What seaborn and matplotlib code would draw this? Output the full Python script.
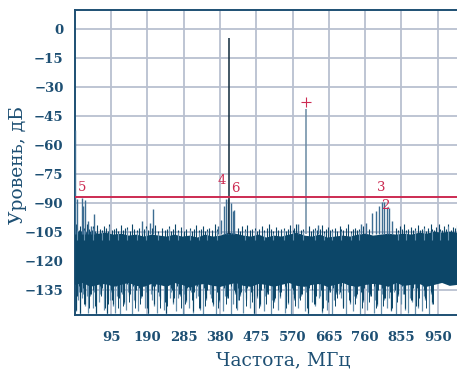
import matplotlib
matplotlib.use("Agg")
import matplotlib.pyplot as plt
import seaborn as sns
import pandas as pd

# Noise floor envelope of the spectrum (MHz, dB)
floor_freq = [0, 20, 40, 60, 80, 100, 120, 140, 160, 180, 200, 220, 240, 260, 280,
              300, 320, 340, 360, 380, 400, 420, 440, 460, 480, 500, 520, 540, 560,
              580, 600, 620, 640, 660, 680, 700, 720, 740, 760, 780, 800, 820, 840,
              860, 880, 900, 920, 940, 960, 980, 1000, 1090]
floor_top = [-104, -105, -104.5, -105.5, -105, -106, -105.5, -106.5, -106, -107,
             -106, -106.5, -107, -106, -107, -106.5, -107.5, -106, -107, -106.5,
             -105, -105.5, -106.5, -107, -106, -107.5, -106.5, -107, -106, -105,
             -106.5, -107, -106, -107.5, -107, -106.5, -107, -106, -105.5, -106.5,
             -106, -105.5, -106, -105.5, -106, -105, -105.5, -104.5, -105, -104.5,
             -105, -105]
floor_bottom = [-132, -131, -133, -132, -131.5, -133, -132, -131, -132.5, -133,
                -131.5, -132, -133, -131, -132, -133.5, -132, -131.5, -132.5, -133,
                -132, -131, -132.5, -133, -131.5, -132, -133, -132, -131, -132.5,
                -133, -132, -131.5, -133, -132, -131, -132.5, -133, -132, -131.5,
                -132, -133, -131, -132.5, -132, -131.5, -133, -132, -131, -132.5,
                -132, -132]

# Noise peaks rising above the floor
peak_freq = [3, 6, 10, 13, 17, 24, 31, 37, 44, 48, 54, 58, 65, 71, 77, 82, 87,
             91, 97, 103, 108, 113, 121, 126, 132, 137, 145, 150, 156, 162, 169,
             175, 181, 186, 193, 201, 211, 218, 228, 235, 241, 246, 252, 257, 262,
             270, 279, 285, 292, 301, 307, 312, 318, 324, 330, 335, 341, 347, 352,
             359, 366, 372, 428, 433, 437, 445, 452, 458, 465, 471, 477, 483, 489,
             496, 502, 508, 514, 520, 526, 533, 540, 547, 553, 558, 563, 570, 575,
             579, 592, 597, 612, 618, 623, 629, 635, 641, 646, 651, 657, 662, 668,
             674, 680, 687, 693, 698, 703, 709, 715, 722, 728, 733, 738, 744, 755,
             770, 840, 846, 852, 857, 861, 867, 873, 879, 885, 891, 897, 903, 908,
             913, 919, 925, 931, 936, 941, 946, 952, 957, 962, 967, 972, 978, 984,
             989, 994, 999]
peak_level = [-101, -103, -104, -102, -104.5, -103, -100.5, -103.5, -104, -102,
              -104.5, -101.5, -103.5, -104, -102, -103, -104.5, -101, -104, -103.5,
              -103, -104.5, -101.5, -104, -103, -102.5, -104.5, -101, -103.5, -104,
              -103, -104.5, -103.5, -102, -104, -103, -101.5, -104.5, -103, -104,
              -103.5, -102, -104.5, -103.5, -101, -104, -102.5, -104.5, -103.5,
              -103, -104.5, -103.5, -101.5, -104, -103.5, -102, -104.5, -103.5,
              -103, -104, -101, -103.5, -103, -104.5, -102, -103.5, -101.5, -104,
              -103.5, -103, -104.5, -103.5, -102, -104, -103, -101, -103.5, -104.5,
              -102.5, -104, -103.5, -103, -104.5, -103.5, -101.5, -104, -103,
              -100.5, -104, -103.5, -102, -104.5, -103.5, -103, -104, -103.5,
              -101.5, -104.5, -103.5, -102.5, -104, -103.5, -103, -104.5, -102,
              -103.5, -104, -103, -101, -104.5, -103.5, -103, -104, -103.5, -102,
              -103.5, -103, -104, -102, -103.5, -101, -104, -103.5, -102.5, -104,
              -103, -101.5, -104, -103.5, -102, -104.5, -103, -101, -103.5, -104,
              -102.5, -100.5, -103.5, -104, -102, -103.5, -101, -104, -102.5,
              -103, -101.5]

# Deep noise dips below the floor
dip_freq = [3, 8, 11, 14, 19, 23, 26, 31, 35, 41, 47, 51, 55, 63, 66, 69, 76, 80,
            84, 93, 96, 99, 106, 111, 114, 119, 124, 128, 134, 139, 143, 151, 155,
            159, 166, 170, 174, 183, 187, 191, 199, 203, 207, 216, 220, 224, 233,
            237, 240, 249, 253, 258, 266, 270, 275, 283, 287, 292, 300, 304, 309,
            317, 322, 327, 336, 340, 344, 353, 357, 361, 371, 374, 378, 389, 393,
            398, 408, 414, 419, 424, 428, 432, 441, 445, 449, 458, 463, 468, 476,
            481, 486, 494, 498, 503, 513, 517, 521, 531, 534, 538, 549, 552, 557,
            566, 570, 575, 584, 588, 593, 602, 606, 611, 620, 625, 630, 638, 642,
            647, 657, 661, 665, 674, 679, 684, 692, 696, 701, 711, 715, 719, 728,
            732, 737, 747, 751, 755, 764, 768, 773, 782, 786, 791, 801, 805, 809,
            818, 823, 828, 836, 840, 845, 855, 859, 863, 872, 877, 882, 890, 894,
            899, 909, 913, 917, 926, 931, 936, 944, 948, 953, 963, 967, 971, 980,
            984, 989, 997]
dip_level = [-146, -140, -136, -148, -139, -137, -143, -138, -147, -138, -144,
             -136, -148, -141, -137, -137, -145, -139, -148, -140, -136, -143,
             -147, -138, -139, -148, -137, -142, -145, -136, -138, -148, -140,
             -141, -146, -137, -139, -144, -136, -148, -137, -140, -143, -147,
             -138, -140, -145, -137, -148, -139, -136, -142, -146, -139, -138,
             -148, -137, -141, -144, -136, -147, -139, -138, -145, -148, -137,
             -140, -137, -139, -143, -148, -136, -141, -146, -138, -139, -148,
             -142, -137, -145, -140, -138, -147, -136, -140, -144, -138, -148,
             -139, -137, -143, -146, -138, -137, -148, -140, -141, -145, -136,
             -139, -147, -138, -142, -148, -137, -140, -144, -139, -138, -146,
             -136, -148, -141, -137, -143, -139, -138, -147, -140, -145, -136,
             -148, -140, -137, -137, -139, -144, -148, -136, -142, -146, -138,
             -139, -148, -137, -141, -145, -136, -138, -147, -140, -143, -148,
             -137, -140, -144, -139, -146, -136, -148, -138, -142, -137, -145,
             -147, -139, -141, -148, -136, -144, -146, -138, -140, -148, -137,
             -142]

# Discrete spurs (MHz, dB)
spur_freq = [1, 7, 18, 22, 27, 34, 42, 51, 177, 198, 204, 376, 382, 391, 396,
             400, 409, 413, 418, 585, 636, 749, 763, 777, 789, 797, 803, 810,
             817, 823, 830]
spur_level = [-52, -87.8, -87.5, -91.2, -88.4, -99, -102, -95.8, -99, -100, -93,
              -102, -98.8, -91.5, -87.7, -87.7, -89.7, -94, -93.5, -100.7, -101.5,
              -101, -100, -95, -94, -91.3, -89.2, -89.5, -91.9, -92.4, -99]

# Main tones
tone_freq = [405, 604]
tone_level = [-4.7, -41]

# Marker labels
marker_names = ["5", "4", "6", "3", "2"]
marker_freq = [19, 386, 420, 802, 812]
marker_level = [-81.9, -78.2, -82.4, -81.9, -91.2]
plus_freq = 604
plus_level = -37.6

threshold = -86.7

x_ticks = [95, 190, 285, 380, 475, 570, 665, 760, 855, 950]
y_ticks = [0, -15, -30, -45, -60, -75, -90, -105, -120, -135]

NAVY = "#0c4668"
LIGHT = "#6690ae"
INK = "#1d4f73"
RED = "#cc2b52"
GRID = "#b9c0d0"

sns.set_theme(style="white")
plt.rcParams["font.family"] = ["DejaVu Serif"]

fig = plt.figure(figsize=(4.57, 3.74), dpi=100)
W, H = 457, 374
left, right, top, bottom = 74.7, 491.3, 10, 315.3
ax = fig.add_axes([left / W, 1 - bottom / H, (right - left) / W, (bottom - top) / H])

floor = pd.DataFrame({"freq": floor_freq, "top": floor_top, "bottom": floor_bottom})
peaks = pd.DataFrame(list(zip(peak_freq, peak_level)), columns=["freq", "level"])
dips = pd.DataFrame(list(zip(dip_freq, dip_level)), columns=["freq", "level"])
spurs = pd.DataFrame({"freq": spur_freq, "level": spur_level})

ax.fill_between(floor["freq"], floor["bottom"], floor["top"], color=NAVY, lw=0, zorder=3)

ax.vlines(peaks["freq"], -109, peaks["level"], color=NAVY, lw=0.8, zorder=3)
light_peaks = peaks.iloc[1::4]
ax.vlines(light_peaks["freq"], -109, light_peaks["level"] - 1, color=LIGHT, lw=0.8, zorder=4)

# lower fringe: light tails, dark stems of varying depth
ax.vlines(dips["freq"], -128, dips["level"], color=LIGHT, lw=0.9, zorder=2)
ax.vlines(dips["freq"] + 2, -128, dips["level"].iloc[::-1].values + 4, color=NAVY, lw=0.7, zorder=3)
dark_dips = dips.iloc[::3]
ax.vlines(dark_dips["freq"], -128, dark_dips["level"] + 1, color=NAVY, lw=0.8, zorder=3)

ax.vlines(spurs["freq"], -106, spurs["level"], color="#3d6d92", lw=1.0, zorder=3)

ax.vlines(tone_freq[0], -106, tone_level[0], color="#102a3c", lw=1.1, zorder=4)
ax.vlines(tone_freq[1], -106, tone_level[1], color="#6a8aa3", lw=1.1, zorder=4)

sns.lineplot(x=[0, 1090], y=[threshold, threshold], ax=ax, color=RED, lw=1.4, zorder=5)

for name, f, lv in zip(marker_names, marker_freq, marker_level):
    ax.text(f, lv, name, color=RED, fontsize=9.5, ha="center", va="center", zorder=6)
ax.plot(plus_freq, plus_level, marker="+", color=RED, ms=7, mew=0.8, zorder=6)

ax.set_xlim(0, 1090)
ax.set_ylim(-148, 10)
ax.set_xticks(x_ticks)
ax.set_yticks(y_ticks)
ax.set_yticklabels([str(v).replace("-", "\u2212") for v in y_ticks])
ax.grid(True, color=GRID, lw=1.3, zorder=0)
ax.set_axisbelow(True)
ax.tick_params(length=0, colors=INK, labelsize=9.5)
ax.tick_params(axis="x", pad=11)
ax.tick_params(axis="y", pad=8)
for lbl in ax.get_xticklabels() + ax.get_yticklabels():
    lbl.set_fontweight("semibold")

for s in ["left", "top", "bottom"]:
    ax.spines[s].set_color(INK)
    ax.spines[s].set_linewidth(1.4)
ax.spines["right"].set_visible(False)

ax.set_xlabel("Частота, МГц", fontsize=13.5, color=INK)
ax.set_ylabel("Уровень, дБ", fontsize=13.5, color=INK)
ax.xaxis.set_label_coords((283 - left) / (right - left), (bottom - 360) / (bottom - top))
ax.yaxis.set_label_coords((18 - left) / (right - left), (bottom - 165) / (bottom - top))
ax.xaxis.label.set_va("center")
ax.yaxis.label.set_va("center")

fig.savefig("out.png", dpi=100)
